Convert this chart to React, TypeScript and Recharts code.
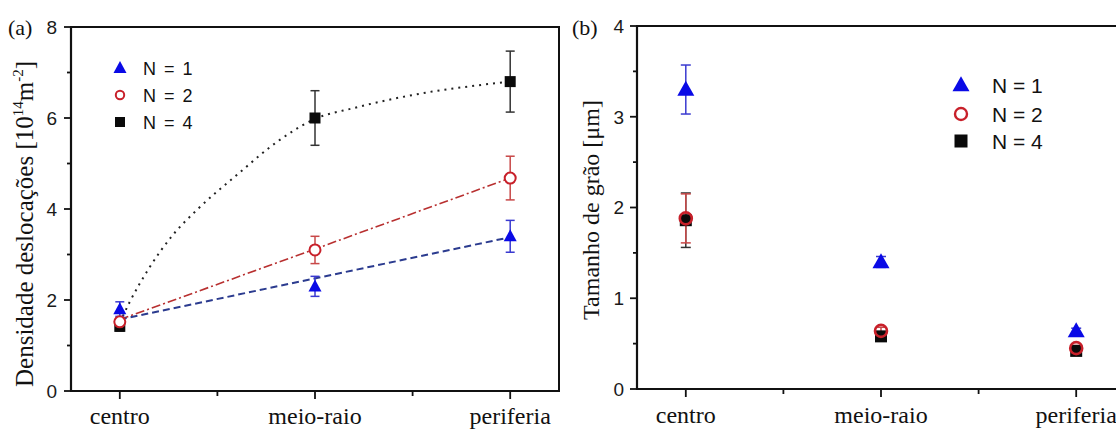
import React from 'react';
import { ComposedChart, Scatter, Line, XAxis, YAxis, ErrorBar, ReferenceArea, Legend } from 'recharts';

const categories = ['centro', 'meio-raio', 'periferia'];
const categoryPos = [1, 2, 3];
const xTicks = [1, 1.5, 2, 2.5, 3];
const seriesNames = ['N = 1', 'N = 2', 'N = 4'];

// (a) Densidade de deslocações
const densN1 = [1.8, 2.3, 3.4];
const densN1Err = [0.16, 0.22, 0.35];
const densN2 = [1.52, 3.1, 4.68];
const densN2Err = [0.08, 0.3, 0.48];
const densN4 = [1.42, 6.0, 6.8];
const densN4Err = [0.1, 0.6, 0.67];
const densTicks = [0, 1, 2, 3, 4, 5, 6, 7, 8];

const fitN1X = [1, 3];
const fitN1Y = [1.57, 3.38];
const fitN2X = [1, 2, 3];
const fitN2Y = [1.57, 3.12, 4.68];
const fitN4X = [1, 1.05, 1.15, 1.27, 1.4, 1.6, 1.82, 2.0, 2.2, 2.4, 2.6, 2.8, 3.0];
const fitN4Y = [1.5, 1.95, 2.7, 3.42, 4.0, 4.75, 5.52, 5.98, 6.22, 6.42, 6.58, 6.7, 6.8];

// (b) Tamanho de grão
const grainN1 = [3.3, 1.4, 0.64];
const grainN1Err = [0.27, 0.06, 0.03];
const grainN2 = [1.88, 0.64, 0.45];
const grainN2Err = [0.27, 0.04, 0.03];
const grainN4 = [1.86, 0.58, 0.42];
const grainN4Err = [0.3, 0.04, 0.03];
const grainTicks = [0, 0.5, 1, 1.5, 2, 2.5, 3, 3.5, 4];

const BLUE = '#0a0ae6';
const BLUE_BAR = '#3a3ad0';
const BLUE_FIT = '#2b3b8f';
const RED = '#c8202a';
const RED_BAR = '#c84848';
const RED_FIT = '#b83030';
const BLACK = '#0a0a0a';
const BLACK_BAR = '#333333';
const AXIS = '#111111';
const SERIF = '"Liberation Serif", "Times New Roman", serif';
const SANS = '"Liberation Sans", Arial, sans-serif';

const toPoints = (xs: number[], ys: number[], errs?: number[]) =>
  xs.map((x, i) => ({ x, y: ys[i], err: errs ? errs[i] : 0 }));

const triShape = (w: number, h: number, color: string) => (p: any) => {
  if (p == null || p.cx == null) return <g />;
  const { cx, cy } = p;
  return (
    <path
      d={`M${cx},${cy - h * 0.58} L${cx + w / 2},${cy + h * 0.42} L${cx - w / 2},${cy + h * 0.42} Z`}
      fill={color}
    />
  );
};
const circShape = (r: number, sw: number, fill: string) => (p: any) => {
  if (p == null || p.cx == null) return <g />;
  return <circle cx={p.cx} cy={p.cy} r={r} fill={fill} stroke={RED} strokeWidth={sw} />;
};
const sqShape = (s: number) => (p: any) => {
  if (p == null || p.cx == null) return <g />;
  return <rect x={p.cx - s / 2} y={p.cy - s / 2} width={s} height={s} fill={BLACK} />;
};

const makeXTick = (labelDy: number) => (props: any) => {
  const { x, y, payload } = props;
  const v = payload.value;
  const idx = categoryPos.indexOf(v);
  const major = idx >= 0;
  return (
    <g>
      <line x1={x} y1={y} x2={x} y2={y + (major ? 8 : 5)} stroke={AXIS} strokeWidth={1.8} />
      {major && (
        <text x={x} y={y + labelDy} textAnchor="middle" fontFamily={SERIF} fontSize={24} fill="#111">
          {categories[idx]}
        </text>
      )}
    </g>
  );
};

const makeYTick = (isMajor: (v: number) => boolean, gap: number, fs: number) => (props: any) => {
  const { x, y, payload } = props;
  const v = payload.value;
  const major = isMajor(v);
  return (
    <g>
      <line x1={x} y1={y} x2={x - (major ? 7 : 4)} y2={y} stroke={AXIS} strokeWidth={1.8} />
      {major && (
        <text x={x - gap} y={y} dy="0.36em" textAnchor="end" fontFamily={SANS} fontSize={fs} fill="#1a1a1a">
          {String(v)}
        </text>
      )}
    </g>
  );
};

const TitleA = () => (
  <g>
    <text x={8} y={35} fontFamily={SERIF} fontSize={22} fill="#111">(a)</text>
    <text transform="translate(33,224) rotate(-90)" textAnchor="middle" fontFamily={SERIF} fontSize={25} fill="#111">
      Densidade deslocações [10
      <tspan fontSize={15} dy={-10}>14</tspan>
      <tspan dy={10}>m</tspan>
      <tspan fontSize={15} dy={-10}>-2</tspan>
      <tspan dy={10}>]</tspan>
    </text>
  </g>
);

const TitleB = () => (
  <g>
    <text x={6} y={35} fontFamily={SERIF} fontSize={22} fill="#111">(b)</text>
    <text transform="translate(33,210) rotate(-90)" textAnchor="middle" fontFamily={SERIF} fontSize={24} fill="#111">
      Tamanho de grão [μm]
    </text>
  </g>
);

const LegendA = () => {
  const rows = [16, 43, 70];
  return (
    <svg width={120} height={90}>
      {triShape(13, 12, BLUE)({ cx: 15, cy: rows[0] })}
      {circShape(4.2, 2, '#fff')({ cx: 15, cy: rows[1] })}
      {sqShape(10)({ cx: 15, cy: rows[2] })}
      {seriesNames.map((n, i) => (
        <text key={n} x={38} y={rows[i] + 6.5} fontFamily={SANS} fontSize={18} wordSpacing={3} fill="#111">
          {n}
        </text>
      ))}
    </svg>
  );
};

const LegendB = () => {
  const rows = [20, 49, 76];
  return (
    <svg width={130} height={95}>
      {triShape(17, 15, BLUE)({ cx: 15, cy: rows[0] })}
      {circShape(6, 2.4, 'none')({ cx: 15, cy: rows[1] })}
      {sqShape(13)({ cx: 15, cy: rows[2] })}
      {seriesNames.map((n, i) => (
        <text key={n} x={46} y={rows[i] + 7.5} fontFamily={SANS} fontSize={21} fill="#111">
          {n}
        </text>
      ))}
    </svg>
  );
};

export default function App() {
  return (
    <div
      style={{
        position: 'absolute',
        left: 0,
        top: 0,
        width: 1116,
        height: 430,
        overflow: 'hidden',
        background: '#fff',
      }}
    >
      <div style={{ position: 'absolute', left: 0, top: 0 }}>
        <ComposedChart width={580} height={430} margin={{ top: 27, right: 21, bottom: 0, left: 0 }}>
          <XAxis
            dataKey="x"
            type="number"
            domain={[0.75, 3.25]}
            ticks={xTicks}
            interval={0}
            tick={makeXTick(33)}
            tickLine={false}
            tickSize={0}
            tickMargin={0}
            height={39}
            axisLine={{ stroke: AXIS, strokeWidth: 2.2 }}
            allowDataOverflow
          />
          <YAxis
            dataKey="y"
            type="number"
            domain={[0, 8]}
            ticks={densTicks}
            interval={0}
            tick={makeYTick((v) => v % 2 === 0, 14, 19)}
            tickLine={false}
            tickSize={0}
            tickMargin={0}
            width={71}
            axisLine={{ stroke: AXIS, strokeWidth: 2.2 }}
            allowDataOverflow
            label={{ content: TitleA }}
          />
          <ReferenceArea x1={0.75} x2={3.25} y1={0} y2={8} fill="none" stroke={AXIS} strokeWidth={2} />
          <Line
            data={toPoints(fitN4X, fitN4Y)}
            dataKey="y"
            type="monotone"
            stroke="#222"
            strokeWidth={2}
            strokeDasharray="2 5"
            dot={false}
            activeDot={false}
            isAnimationActive={false}
            legendType="none"
          />
          <Line
            data={toPoints(fitN2X, fitN2Y)}
            dataKey="y"
            type="linear"
            stroke={RED_FIT}
            strokeWidth={1.6}
            strokeDasharray="9 3 2 3"
            dot={false}
            activeDot={false}
            isAnimationActive={false}
            legendType="none"
          />
          <Line
            data={toPoints(fitN1X, fitN1Y)}
            dataKey="y"
            type="linear"
            stroke={BLUE_FIT}
            strokeWidth={2}
            strokeDasharray="7 4"
            dot={false}
            activeDot={false}
            isAnimationActive={false}
            legendType="none"
          />
          <Scatter data={toPoints(categoryPos, densN4, densN4Err)} shape={sqShape(11)} isAnimationActive={false}>
            <ErrorBar dataKey="err" direction="y" width={4.5} stroke={BLACK_BAR} strokeWidth={1.5} />
          </Scatter>
          <Scatter data={toPoints(categoryPos, densN2, densN2Err)} shape={circShape(5.5, 2, '#fff')} isAnimationActive={false}>
            <ErrorBar dataKey="err" direction="y" width={4.5} stroke={RED_BAR} strokeWidth={1.5} />
          </Scatter>
          <Scatter data={toPoints(categoryPos, densN1, densN1Err)} shape={triShape(13, 12, BLUE)} isAnimationActive={false}>
            <ErrorBar dataKey="err" direction="y" width={4.5} stroke={BLUE_BAR} strokeWidth={1.5} />
          </Scatter>
          <Legend
            layout="vertical"
            align="center"
            verticalAlign="middle"
            wrapperStyle={{ left: 105, top: 52, width: 120, height: 90 }}
            content={LegendA}
          />
        </ComposedChart>
      </div>
      <div style={{ position: 'absolute', left: 566, top: 0 }}>
        <ComposedChart width={569} height={430} margin={{ top: 26, right: 10, bottom: 0, left: 0 }}>
          <XAxis
            dataKey="x"
            type="number"
            domain={[0.75, 3.25]}
            ticks={xTicks}
            interval={0}
            tick={makeXTick(34)}
            tickLine={false}
            tickSize={0}
            tickMargin={0}
            height={41}
            axisLine={{ stroke: AXIS, strokeWidth: 2.2 }}
            allowDataOverflow
          />
          <YAxis
            dataKey="y"
            type="number"
            domain={[0, 4]}
            ticks={grainTicks}
            interval={0}
            tick={makeYTick((v) => Number.isInteger(v), 13, 19)}
            tickLine={false}
            tickSize={0}
            tickMargin={0}
            width={71}
            axisLine={{ stroke: AXIS, strokeWidth: 2.2 }}
            allowDataOverflow
            label={{ content: TitleB }}
          />
          <ReferenceArea x1={0.75} x2={3.25} y1={0} y2={4} fill="none" stroke={AXIS} strokeWidth={2} />
          <Scatter data={toPoints(categoryPos, grainN4, grainN4Err)} shape={sqShape(12)} isAnimationActive={false}>
            <ErrorBar dataKey="err" direction="y" width={5} stroke={BLACK_BAR} strokeWidth={1.5} />
          </Scatter>
          <Scatter data={toPoints(categoryPos, grainN2, grainN2Err)} shape={circShape(6, 2.6, 'none')} isAnimationActive={false}>
            <ErrorBar dataKey="err" direction="y" width={5} stroke={RED_BAR} strokeWidth={1.5} />
          </Scatter>
          <Scatter data={toPoints(categoryPos, grainN1, grainN1Err)} shape={triShape(17, 15, BLUE)} isAnimationActive={false}>
            <ErrorBar dataKey="err" direction="y" width={5} stroke={BLUE_BAR} strokeWidth={1.5} />
          </Scatter>
          <Legend
            layout="vertical"
            align="center"
            verticalAlign="middle"
            wrapperStyle={{ left: 380, top: 65, width: 130, height: 95 }}
            content={LegendB}
          />
        </ComposedChart>
      </div>
    </div>
  );
}
